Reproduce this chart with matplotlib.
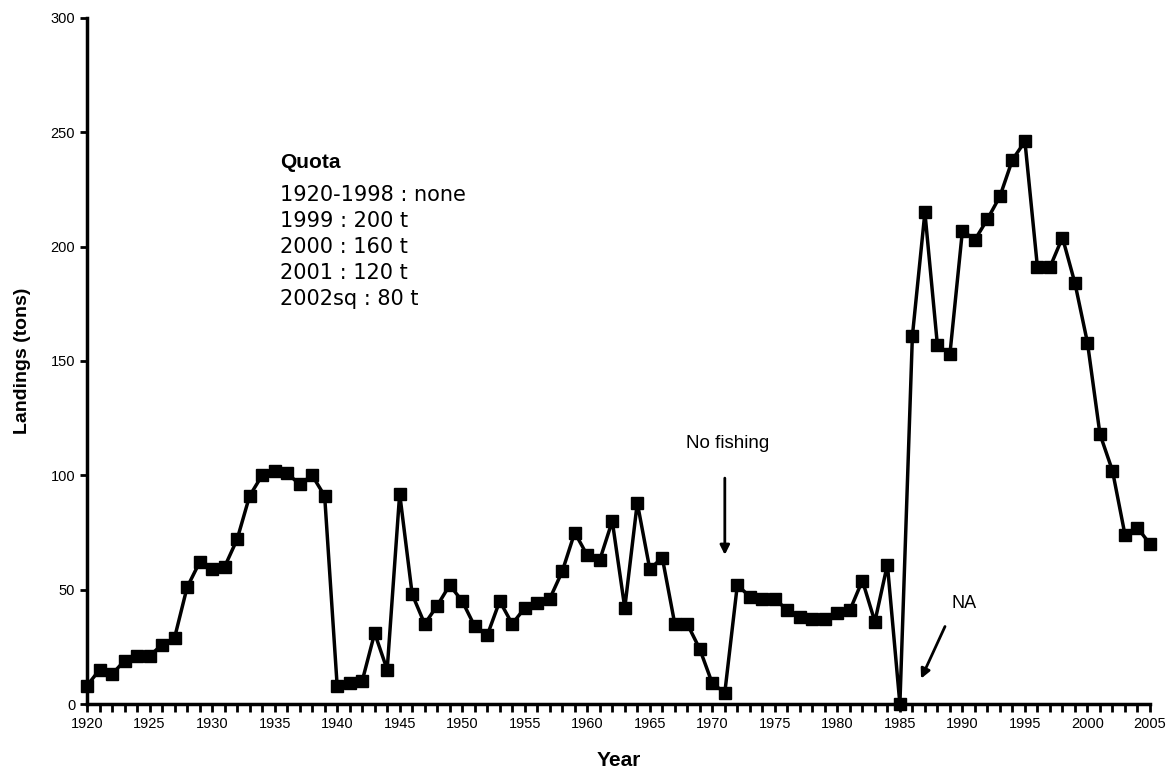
import matplotlib.pyplot as plt
import numpy as np

plt.rcParams['font.family'] = ['Liberation Sans', 'DejaVu Sans']

years = np.arange(1920, 2006)
landings = [
    8, 15, 13, 19, 21, 21, 26, 29, 51, 62,       # 1920-1929
    59, 60, 72, 91, 100, 102, 101, 96, 100, 91,  # 1930-1939
    8, 9, 10, 31, 15, 92, 48, 35, 43, 52,        # 1940-1949
    45, 34, 30, 45, 35, 42, 44, 46, 58, 75,      # 1950-1959
    65, 63, 80, 42, 88, 59, 64, 35, 35, 24,      # 1960-1969
    9, 5, 52, 47, 46, 46, 41, 38, 37, 37,        # 1970-1979
    40, 41, 54, 36, 61, 0, 161, 215, 157, 153,   # 1980-1989
    207, 203, 212, 222, 238, 246, 191, 191, 204, 184,  # 1990-1999
    158, 118, 102, 74, 77, 70,                   # 2000-2005
]
quota_lines = ['1920-1998 : none', '1999 : 200 t', '2000 : 160 t',
               '2001 : 120 t', '2002sq : 80 t']

fig = plt.figure(figsize=(11.7, 7.78), dpi=100)
ax = fig.add_axes([0.0744, 0.0951, 0.9085, 0.8818])

ax.plot(years, landings, color='black', lw=2.5, marker='s', ms=9,
        clip_on=False, zorder=3)

ax.set_xlim(1920, 2005)
ax.set_ylim(0, 300)
ax.set_xticks(np.arange(1920, 2006, 5))
ax.set_xticks(np.arange(1920, 2006, 1), minor=True)
ax.set_yticks(np.arange(0, 301, 50))
ax.tick_params(axis='both', which='both', direction='out', width=2,
               labelsize=10.5)
ax.tick_params(axis='x', which='both', length=6)
ax.tick_params(axis='y', length=5)

for s in ['top', 'right']:
    ax.spines[s].set_visible(False)
for s in ['left', 'bottom']:
    ax.spines[s].set_linewidth(2.5)

ax.set_xlabel('Year', fontsize=15, fontweight='bold', labelpad=14)
ax.set_ylabel('Landings (tons)', fontsize=14, fontweight='bold', labelpad=14)

# quota box
ax.text(1935.4, 237, 'Quota', fontsize=15, fontweight='bold', va='center')
for i, t in enumerate(quota_lines):
    ax.text(1935.4, 222.5 - i * 11.4, t, fontsize=15, va='center',
            family='DejaVu Sans')

# annotations
ax.annotate('', xy=(1971, 64), xytext=(1971, 100),
            arrowprops=dict(arrowstyle='-|>', color='black', lw=2,
                            mutation_scale=14))
ax.text(1971.2, 114, 'No fishing', fontsize=13.5, ha='center', va='center')
ax.annotate('', xy=(1986.6, 10), xytext=(1988.7, 35),
            arrowprops=dict(arrowstyle='-|>', color='black', lw=2,
                            mutation_scale=14))
ax.text(1990.1, 44, 'NA', fontsize=13, ha='center', va='center')

fig.savefig('out.png', dpi=100)
